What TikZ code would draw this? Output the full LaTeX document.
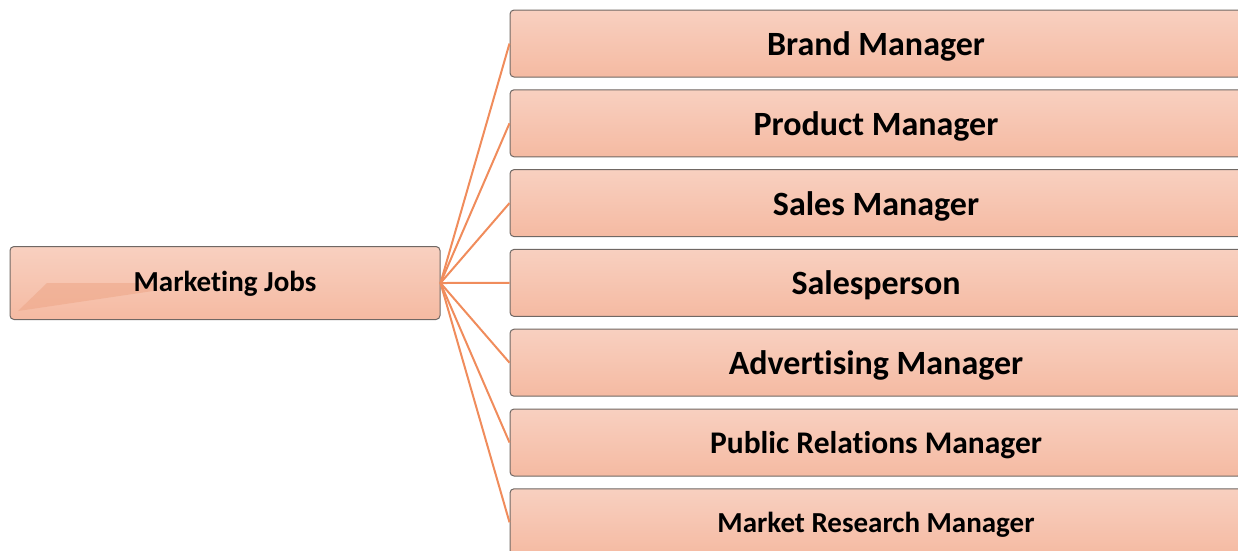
\documentclass[tikz,border=0pt]{standalone}
\usepackage{fontspec}
\setmainfont[RawFeature={-liga;-clig;-calt;-dlig}]{Carlito}

\definecolor{boxtop}{RGB}{248,208,192}
\definecolor{boxbot}{RGB}{245,186,162}
\definecolor{boxline}{RGB}{112,104,100}
\definecolor{linkcol}{RGB}{240,140,92}
\definecolor{glare}{RGB}{238,168,138}

\tikzset{
    jobbox/.style={draw=boxline, line width=1pt, rounded corners=4pt,
        top color=boxtop, bottom color=boxbot,
        minimum width=732pt, minimum height=67pt, inner sep=0pt},
    rootbox/.style={jobbox, minimum width=430pt, minimum height=73pt},
    link/.style={draw=linkcol, line width=2pt}
}

\begin{document}
\begin{tikzpicture}[x=1pt, y=-1pt]
    % Frame
    \useasboundingbox (0,0) rectangle (1238,550);
    \clip (0,0) rectangle (1238,550);

    % Draw root box
    \node[rootbox] (jobs) at (225,283) {};
    \fill[glare, opacity=0.6] (18,311) -- (47,283) -- (153,283) -- (153,291) -- cycle;
    \node[font=\fontsize{29}{29}\selectfont\bfseries] (jobstext) at ([yshift=-1pt]jobs.center) {Marketing Jobs};

    % Draw job boxes and links
    \foreach \name/\txt/\fs [count=\i] in {brand/Brand Manager/34,
            product/Product Manager/34, sales/Sales Manager/34,
            person/Salesperson/34, ads/Advertising Manager/34,
            pr/Public Relations Manager/31.5, research/Market Research Manager/29} {
        \node[jobbox, font=\fontsize{\fs}{\fs}\selectfont\bfseries, text depth=-2pt] (\name)
            at (876,{43.5+79.8*(\i-1)}) {\txt};
        \draw[link] (jobs.east) -- (\name.west);
    }
\end{tikzpicture}
\end{document}
